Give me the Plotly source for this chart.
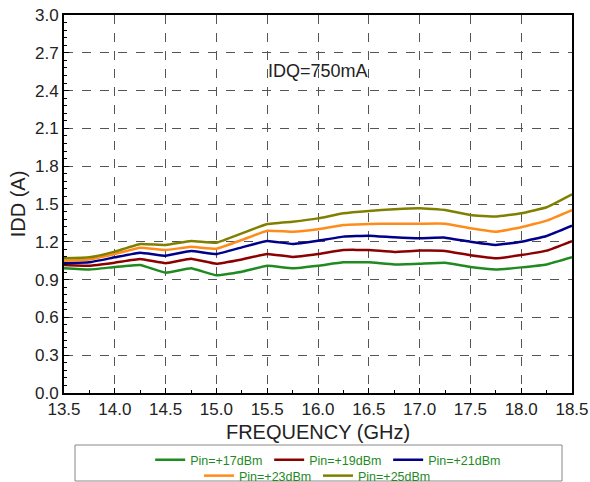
import plotly.graph_objects as go

freq = [13.5, 13.75, 14.0, 14.25, 14.5, 14.75, 15.0, 15.25, 15.5, 15.75,
        16.0, 16.25, 16.5, 16.75, 17.0, 17.25, 17.5, 17.75, 18.0, 18.25, 18.5]

pin17 = [0.99, 0.98, 1.00, 1.016, 0.955, 0.99, 0.934, 0.963, 1.01, 0.99,
         1.01, 1.037, 1.037, 1.02, 1.026, 1.034, 1.00, 0.98, 0.997, 1.02, 1.077]
pin19 = [1.016, 1.01, 1.034, 1.063, 1.03, 1.066, 1.026, 1.06, 1.103, 1.08,
         1.103, 1.135, 1.135, 1.119, 1.13, 1.127, 1.093, 1.069, 1.095, 1.13, 1.206]
pin21 = [1.03, 1.037, 1.077, 1.114, 1.09, 1.127, 1.103, 1.156, 1.206, 1.183,
         1.209, 1.241, 1.249, 1.236, 1.228, 1.233, 1.20, 1.175, 1.20, 1.246, 1.328]
pin23 = [1.05, 1.06, 1.103, 1.153, 1.135, 1.16, 1.145, 1.214, 1.288, 1.28,
         1.30, 1.333, 1.341, 1.344, 1.344, 1.344, 1.307, 1.28, 1.315, 1.368, 1.452]
pin25 = [1.069, 1.077, 1.122, 1.183, 1.175, 1.206, 1.193, 1.267, 1.341, 1.36,
         1.386, 1.426, 1.445, 1.458, 1.466, 1.452, 1.413, 1.40, 1.426, 1.474, 1.577]

names = ["Pin=+17dBm", "Pin=+19dBm", "Pin=+21dBm", "Pin=+23dBm", "Pin=+25dBm"]
colors = ["#1f8a1f", "#8b0000", "#00008b", "#ff8c1a", "#808000"]
series = [pin17, pin19, pin21, pin23, pin25]
legend_ids = ["legend", "legend", "legend", "legend2", "legend2"]

x_ticks = [13.5, 14.0, 14.5, 15.0, 15.5, 16.0, 16.5, 17.0, 17.5, 18.0, 18.5]
y_ticks = [0.0, 0.3, 0.6, 0.9, 1.2, 1.5, 1.8, 2.1, 2.4, 2.7, 3.0]

FONT = "Arial, Liberation Sans, sans-serif"

fig = go.Figure()
for name, col, ys, lg in zip(names, colors, series, legend_ids):
    fig.add_trace(go.Scatter(x=freq, y=ys, name=name, mode="lines", legend=lg,
                             line=dict(color=col, width=2.5, shape="spline", smoothing=0.3)))

axis_common = dict(
    showline=True, linecolor="black", linewidth=2, mirror=True,
    showgrid=True, gridcolor="#555555", griddash="dash", gridwidth=1,
    ticks="inside", ticklen=5, tickcolor="black", tickwidth=1,
    zeroline=False,
    tickfont=dict(family=FONT, size=17, color="#222222"),
)

fig.update_xaxes(range=[13.5, 18.5], tickvals=x_ticks,
                 ticktext=[f"{v:.1f}" for v in x_ticks],
                 minor=dict(dtick=0.25, ticks="inside", ticklen=3, tickcolor="black", showgrid=False),
                 title=dict(text="FREQUENCY (GHz)", font=dict(family=FONT, size=20, color="#222222"), standoff=7),
                 **axis_common)
fig.update_yaxes(range=[0, 3.0], tickvals=y_ticks,
                 ticktext=[f"{v:.1f}" for v in y_ticks],
                 minor=dict(dtick=0.06, ticks="inside", ticklen=3, tickcolor="black", showgrid=False),
                 title=dict(text="IDD (A)", font=dict(family=FONT, size=20, color="#222222"), standoff=4),
                 **axis_common)

fig.add_annotation(x=16.0, y=2.556, xref="x", yref="y", text="IDQ=750mA", showarrow=False,
                   xanchor="center", yanchor="middle",
                   font=dict(family=FONT, size=18, color="#222222"))

# legend frame
fig.add_shape(type="rect", xref="paper", yref="paper",
              x0=(75 - 64) / 508, x1=(562 - 64) / 508,
              y0=-(481 - 393) / 378, y1=-(445 - 393) / 378,
              line=dict(color="#888888", width=1), fillcolor="white", layer="below")

leg_common = dict(orientation="h", xanchor="center", yanchor="top",
                  entrywidth=74, entrywidthmode="pixels", tracegroupgap=0,
                  font=dict(family=FONT, size=12.5, color="#1f8a1f"),
                  bgcolor="rgba(0,0,0,0)", borderwidth=0, itemwidth=30)

fig.update_layout(
    width=590, height=482,
    margin=dict(l=64, r=18, t=15, b=89, autoexpand=False),
    paper_bgcolor="white", plot_bgcolor="white",
    showlegend=True,
    legend=dict(x=0.521, y=-(445 - 393) / 378, **leg_common),
    legend2=dict(x=0.5, y=-(461 - 393) / 378, **leg_common),
    font=dict(family=FONT),
)

fig.write_html("out.html")
